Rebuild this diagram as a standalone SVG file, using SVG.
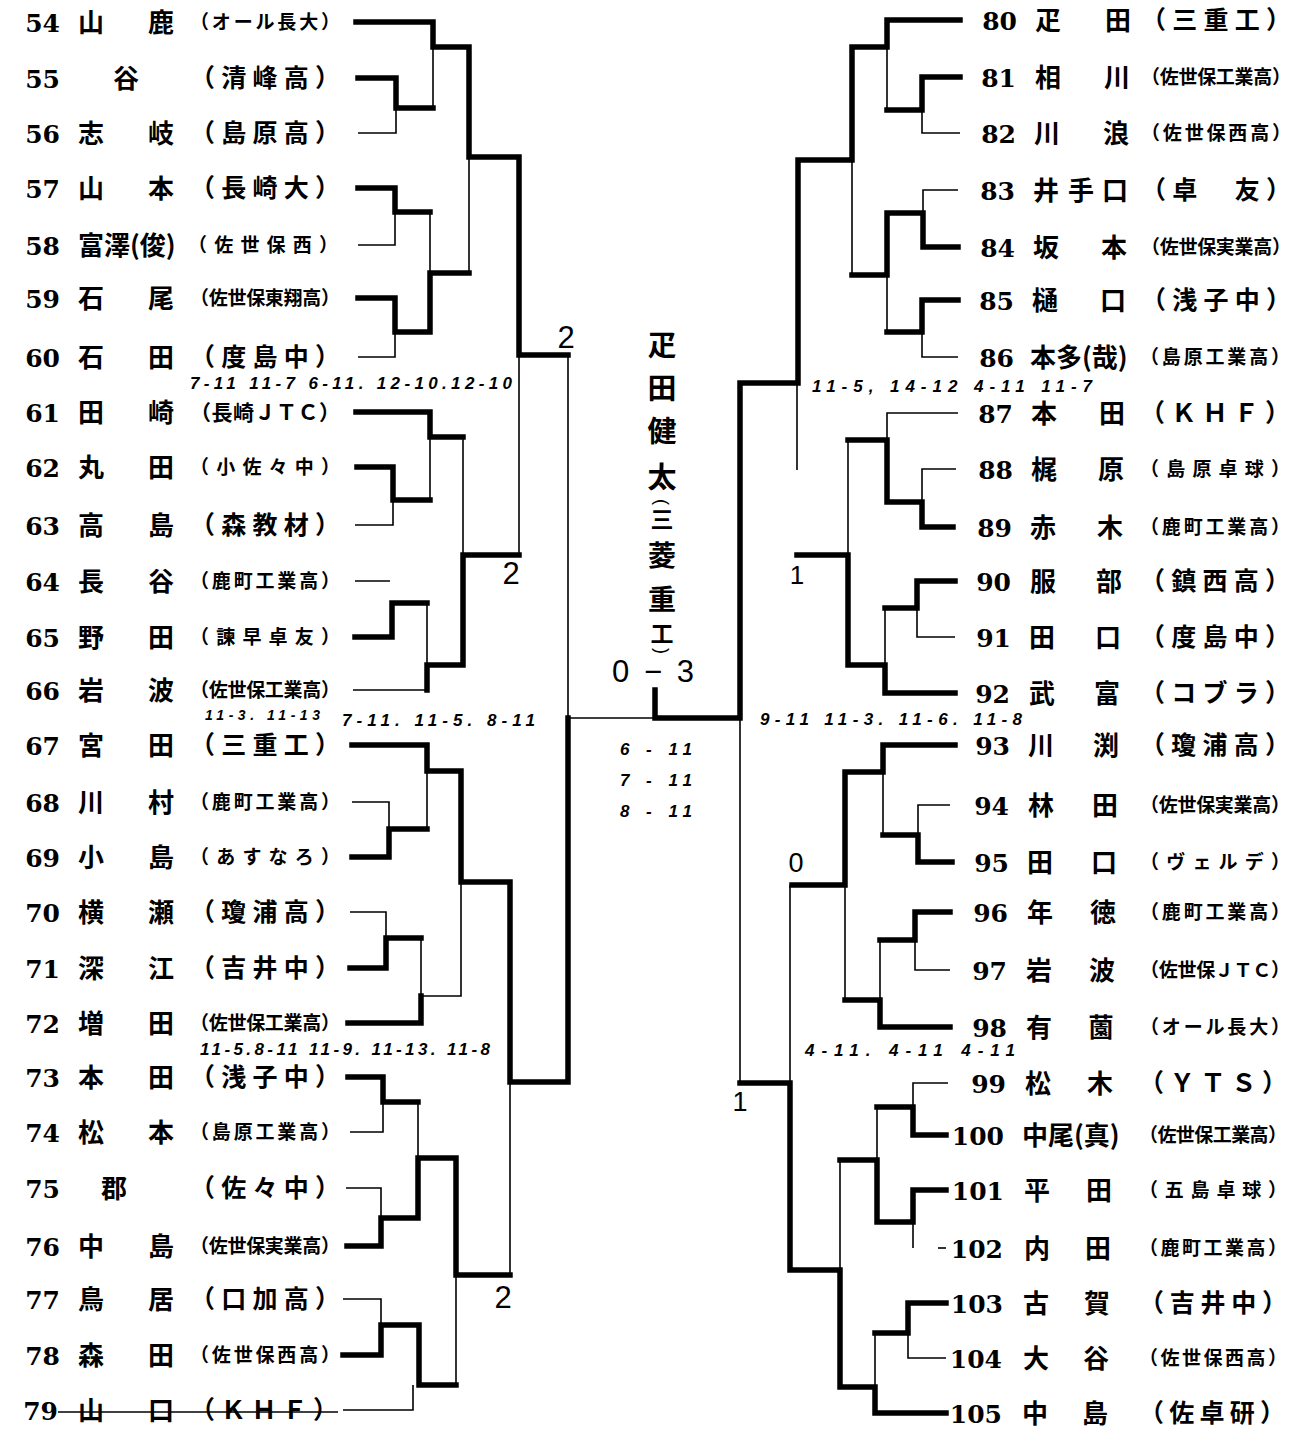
<svg xmlns="http://www.w3.org/2000/svg" width="1304" height="1432" viewBox="0 0 1304 1432">
<style>
.k{stroke:#000;stroke-width:5.5;fill:none;stroke-linecap:square;stroke-linejoin:miter}
.t{stroke:#000;stroke-width:1.6;fill:none}
.n{font-family:"DejaVu Serif","Liberation Serif",serif;font-size:25px;font-weight:bold;text-anchor:end}
.nm{font-family:"Noto Sans CJK JP",sans-serif;font-size:26px;font-weight:bold}
.L{font-family:"Noto Sans CJK JP",sans-serif;font-size:25px;font-weight:bold}
.S{font-family:"Noto Sans CJK JP",sans-serif;font-size:19px;font-weight:bold}
.a{font-family:"Liberation Sans",sans-serif;font-style:italic;font-weight:bold;font-size:17px}
.m{font-family:"Liberation Sans",sans-serif;font-size:31px}
.v{font-family:"Noto Sans CJK JP",sans-serif;font-size:29px;font-weight:bold;text-anchor:middle}
.p{font-family:"Liberation Sans",sans-serif;font-size:18px;text-anchor:middle}
</style>
<rect width="1304" height="1432" fill="#fff"/>
<g id="connectors">
<path class="k" d="M356,22H433V47H469V157H519V355H568"/>
<path class="k" d="M358,78H396V108H433"/>
<path class="k" d="M358,188H395V212H430"/>
<path class="k" d="M358,298H395V332H430V273H469"/>
<path class="k" d="M356,412H430V437H463"/>
<path class="k" d="M357,467H393V500H430"/>
<path class="k" d="M355,637H392V603H427"/>
<path class="k" d="M427,690V665H463V555H519"/>
<path class="k" d="M352,745H427V771H461V882H510V1082H568V718"/>
<path class="k" d="M352,857H389V829H427"/>
<path class="k" d="M350,968H386V938H421"/>
<path class="k" d="M348,1023H421V996"/>
<path class="k" d="M348,1077H383V1102H418"/>
<path class="k" d="M347,1246H381V1218H418V1158H456V1275H510"/>
<path class="k" d="M343,1355H381V1325H419V1385H456"/>
<path class="k" d="M655,690V718H740V383H798V160H852V47H887V20H960"/>
<path class="t" d="M396,108V133H358"/>
<path class="t" d="M433,47V108"/>
<path class="t" d="M469,157V273"/>
<path class="t" d="M395,212V245H358"/>
<path class="t" d="M430,212V273"/>
<path class="t" d="M395,332V357H358"/>
<path class="t" d="M519,355V555"/>
<path class="t" d="M568,355V718H655"/>
<path class="t" d="M430,437V500"/>
<path class="t" d="M393,500V525H355"/>
<path class="t" d="M463,437V555"/>
<path class="t" d="M355,581H390"/>
<path class="t" d="M427,603V665"/>
<path class="t" d="M353,690H427"/>
<path class="t" d="M427,771V829"/>
<path class="t" d="M352,802H389V829"/>
<path class="t" d="M461,882V996H421"/>
<path class="t" d="M350,912H386V938"/>
<path class="t" d="M421,938V996"/>
<path class="t" d="M510,1082V1275"/>
<path class="t" d="M383,1102V1132H350"/>
<path class="t" d="M418,1102V1158"/>
<path class="t" d="M346,1188H381V1218"/>
<path class="t" d="M456,1275V1385"/>
<path class="t" d="M343,1299H381V1325"/>
<path class="t" d="M343,1410H413V1385"/>
<path class="k" d="M960,77H922V110H887"/>
<path class="k" d="M958,247H923V213H887V275H852"/>
<path class="k" d="M958,300H922V332H887"/>
<path class="k" d="M953,527H922V502H887V440H848"/>
<path class="k" d="M955,693H885V665H848V555H797"/>
<path class="k" d="M955,581H917V608H885"/>
<path class="k" d="M955,745H883V772H845V885H792"/>
<path class="k" d="M952,862H918V835H883"/>
<path class="k" d="M950,912H915V940H880"/>
<path class="k" d="M950,1027H880V1000H845"/>
<path class="k" d="M946,1413H875V1387H840V1270H790V1083H740"/>
<path class="k" d="M946,1303H908V1333H875"/>
<path class="k" d="M946,1190H913V1222H877V1160H840"/>
<path class="k" d="M946,1135H913V1107H877"/>
<path class="t" d="M887,47V110"/>
<path class="t" d="M960,133H922V110"/>
<path class="t" d="M852,160V275"/>
<path class="t" d="M958,190H923V213"/>
<path class="t" d="M887,275V332"/>
<path class="t" d="M958,357H922V332"/>
<path class="t" d="M797,383V470"/>
<path class="t" d="M740,718V1083"/>
<path class="t" d="M958,413H887V440"/>
<path class="t" d="M956,469H922V502"/>
<path class="t" d="M848,440V555"/>
<path class="t" d="M917,608V637H955"/>
<path class="t" d="M885,608V665"/>
<path class="t" d="M883,772V835"/>
<path class="t" d="M950,805H918V835"/>
<path class="t" d="M845,885V1000"/>
<path class="t" d="M915,940V970H950"/>
<path class="t" d="M880,940V1000"/>
<path class="t" d="M790,885V1083"/>
<path class="t" d="M948,1083H913V1107"/>
<path class="t" d="M877,1107V1160"/>
<path class="t" d="M913,1222V1248"/>
<path class="t" d="M938,1248H946"/>
<path class="t" d="M840,1160V1270"/>
<path class="t" d="M908,1333V1358H946"/>
<path class="t" d="M875,1333V1387"/>
<path class="t" d="M58,1412H338"/>
</g>
<g id="p54"><text class="n" x="60" y="32">54</text><text class="nm" x="78 148" y="32">山鹿</text><text class="S" x="190" y="29" textLength="150" lengthAdjust="spacing">（オール長大）</text></g>
<g id="p55"><text class="n" x="60" y="88">55</text><text class="nm" x="113" y="88">谷</text><text class="L" x="190" y="87" textLength="150" lengthAdjust="spacing">（清峰高）</text></g>
<g id="p56"><text class="n" x="60" y="143">56</text><text class="nm" x="78 148" y="143">志岐</text><text class="L" x="190" y="142" textLength="150" lengthAdjust="spacing">（島原高）</text></g>
<g id="p57"><text class="n" x="60" y="198">57</text><text class="nm" x="78 148" y="198">山本</text><text class="L" x="190" y="197" textLength="150" lengthAdjust="spacing">（長崎大）</text></g>
<g id="p58"><text class="n" x="60" y="255">58</text><text class="nm" x="78" y="255">富澤(俊)</text><text class="S" x="188" y="252" textLength="150" lengthAdjust="spacing">（佐世保西）</text></g>
<g id="p59"><text class="n" x="60" y="308">59</text><text class="nm" x="78 148" y="308">石尾</text><text class="S" x="190" y="305" textLength="150" lengthAdjust="spacing">（佐世保東翔高）</text></g>
<g id="p60"><text class="n" x="60" y="367">60</text><text class="nm" x="78 148" y="367">石田</text><text class="L" x="190" y="366" textLength="150" lengthAdjust="spacing">（度島中）</text></g>
<g id="p61"><text class="n" x="60" y="422">61</text><text class="nm" x="78 148" y="422">田崎</text><text class="S" x="190" y="420" textLength="150" lengthAdjust="spacing" style="font-size:21px">（長崎ＪＴＣ）</text></g>
<g id="p62"><text class="n" x="60" y="477">62</text><text class="nm" x="78 148" y="477">丸田</text><text class="S" x="190" y="474" textLength="150" lengthAdjust="spacing">（小佐々中）</text></g>
<g id="p63"><text class="n" x="60" y="535">63</text><text class="nm" x="78 148" y="535">高島</text><text class="L" x="190" y="534" textLength="150" lengthAdjust="spacing">（森教材）</text></g>
<g id="p64"><text class="n" x="60" y="591">64</text><text class="nm" x="78 148" y="591">長谷</text><text class="S" x="190" y="588" textLength="150" lengthAdjust="spacing">（鹿町工業高）</text></g>
<g id="p65"><text class="n" x="60" y="647">65</text><text class="nm" x="78 148" y="647">野田</text><text class="S" x="190" y="644" textLength="150" lengthAdjust="spacing">（諫早卓友）</text></g>
<g id="p66"><text class="n" x="60" y="700">66</text><text class="nm" x="78 148" y="700">岩波</text><text class="S" x="190" y="697" textLength="150" lengthAdjust="spacing">（佐世保工業高）</text></g>
<g id="p67"><text class="n" x="60" y="755">67</text><text class="nm" x="78 148" y="755">宮田</text><text class="L" x="190" y="754" textLength="150" lengthAdjust="spacing">（三重工）</text></g>
<g id="p68"><text class="n" x="60" y="812">68</text><text class="nm" x="78 148" y="812">川村</text><text class="S" x="190" y="809" textLength="150" lengthAdjust="spacing">（鹿町工業高）</text></g>
<g id="p69"><text class="n" x="60" y="867">69</text><text class="nm" x="78 148" y="867">小島</text><text class="S" x="190" y="864" textLength="150" lengthAdjust="spacing">（あすなろ）</text></g>
<g id="p70"><text class="n" x="60" y="922">70</text><text class="nm" x="78 148" y="922">横瀬</text><text class="L" x="190" y="921" textLength="150" lengthAdjust="spacing">（瓊浦高）</text></g>
<g id="p71"><text class="n" x="60" y="978">71</text><text class="nm" x="78 148" y="978">深江</text><text class="L" x="190" y="977" textLength="150" lengthAdjust="spacing">（吉井中）</text></g>
<g id="p72"><text class="n" x="60" y="1033">72</text><text class="nm" x="78 148" y="1033">増田</text><text class="S" x="190" y="1030" textLength="150" lengthAdjust="spacing">（佐世保工業高）</text></g>
<g id="p73"><text class="n" x="60" y="1087">73</text><text class="nm" x="78 148" y="1087">本田</text><text class="L" x="190" y="1086" textLength="150" lengthAdjust="spacing">（浅子中）</text></g>
<g id="p74"><text class="n" x="60" y="1142">74</text><text class="nm" x="78 148" y="1142">松本</text><text class="S" x="190" y="1139" textLength="150" lengthAdjust="spacing">（島原工業高）</text></g>
<g id="p75"><text class="n" x="60" y="1198">75</text><text class="nm" x="101" y="1198">郡</text><text class="L" x="190" y="1197" textLength="150" lengthAdjust="spacing">（佐々中）</text></g>
<g id="p76"><text class="n" x="60" y="1256">76</text><text class="nm" x="78 148" y="1256">中島</text><text class="S" x="190" y="1253" textLength="150" lengthAdjust="spacing">（佐世保実業高）</text></g>
<g id="p77"><text class="n" x="60" y="1309">77</text><text class="nm" x="78 148" y="1309">鳥居</text><text class="L" x="190" y="1308" textLength="150" lengthAdjust="spacing">（口加高）</text></g>
<g id="p78"><text class="n" x="60" y="1365">78</text><text class="nm" x="78 148" y="1365">森田</text><text class="S" x="190" y="1362" textLength="150" lengthAdjust="spacing">（佐世保西高）</text></g>
<g id="p79"><text class="n" x="58" y="1420">79</text><text class="nm" x="78 148" y="1420">山口</text><text class="L" x="190" y="1419" textLength="148" lengthAdjust="spacing">（ＫＨＦ）</text></g>
<g id="p80"><text class="n" x="1017" y="30">80</text><text class="nm" x="1035 1105" y="30">疋田</text><text class="L" x="1141" y="29" textLength="150" lengthAdjust="spacing">（三重工）</text></g>
<g id="p81"><text class="n" x="1016" y="87">81</text><text class="nm" x="1035 1104" y="87">相川</text><text class="S" x="1141" y="84" textLength="150" lengthAdjust="spacing">（佐世保工業高）</text></g>
<g id="p82"><text class="n" x="1016" y="143">82</text><text class="nm" x="1034 1103" y="143">川浪</text><text class="S" x="1141" y="140" textLength="150" lengthAdjust="spacing">（佐世保西高）</text></g>
<g id="p83"><text class="n" x="1015" y="200">83</text><text class="nm" x="1033 1068 1102" y="200">井手口</text><text class="L" x="1141" y="199" textLength="150" lengthAdjust="spacing">（卓　友）</text></g>
<g id="p84"><text class="n" x="1015" y="257">84</text><text class="nm" x="1033 1101" y="257">坂本</text><text class="S" x="1141" y="254" textLength="150" lengthAdjust="spacing">（佐世保実業高）</text></g>
<g id="p85"><text class="n" x="1014" y="310">85</text><text class="nm" x="1032 1100" y="310">樋口</text><text class="L" x="1141" y="309" textLength="150" lengthAdjust="spacing">（浅子中）</text></g>
<g id="p86"><text class="n" x="1014" y="367">86</text><text class="nm" x="1030" y="367">本多(哉)</text><text class="S" x="1140" y="364" textLength="150" lengthAdjust="spacing">（島原工業高）</text></g>
<g id="p87"><text class="n" x="1013" y="423">87</text><text class="nm" x="1031 1099" y="423">本田</text><text class="L" x="1140" y="422" textLength="150" lengthAdjust="spacing">（ＫＨＦ）</text></g>
<g id="p88"><text class="n" x="1013" y="479">88</text><text class="nm" x="1031 1098" y="479">梶原</text><text class="S" x="1140" y="476" textLength="150" lengthAdjust="spacing">（島原卓球）</text></g>
<g id="p89"><text class="n" x="1012" y="537">89</text><text class="nm" x="1030 1097" y="537">赤木</text><text class="S" x="1140" y="534" textLength="150" lengthAdjust="spacing">（鹿町工業高）</text></g>
<g id="p90"><text class="n" x="1011" y="591">90</text><text class="nm" x="1030 1096" y="591">服部</text><text class="L" x="1140" y="590" textLength="150" lengthAdjust="spacing">（鎮西高）</text></g>
<g id="p91"><text class="n" x="1011" y="647">91</text><text class="nm" x="1029 1095" y="647">田口</text><text class="L" x="1140" y="646" textLength="150" lengthAdjust="spacing">（度島中）</text></g>
<g id="p92"><text class="n" x="1010" y="703">92</text><text class="nm" x="1029 1094" y="703">武富</text><text class="L" x="1140" y="702" textLength="150" lengthAdjust="spacing">（コブラ）</text></g>
<g id="p93"><text class="n" x="1010" y="755">93</text><text class="nm" x="1028 1093" y="755">川渕</text><text class="L" x="1140" y="754" textLength="150" lengthAdjust="spacing">（瓊浦高）</text></g>
<g id="p94"><text class="n" x="1009" y="815">94</text><text class="nm" x="1028 1092" y="815">林田</text><text class="S" x="1140" y="812" textLength="150" lengthAdjust="spacing">（佐世保実業高）</text></g>
<g id="p95"><text class="n" x="1009" y="872">95</text><text class="nm" x="1027 1091" y="872">田口</text><text class="S" x="1140" y="869" textLength="150" lengthAdjust="spacing">（ヴェルデ）</text></g>
<g id="p96"><text class="n" x="1008" y="922">96</text><text class="nm" x="1027 1090" y="922">年徳</text><text class="S" x="1140" y="919" textLength="150" lengthAdjust="spacing">（鹿町工業高）</text></g>
<g id="p97"><text class="n" x="1007" y="980">97</text><text class="nm" x="1026 1089" y="980">岩波</text><text class="S" x="1140" y="977" textLength="150" lengthAdjust="spacing">（佐世保ＪＴＣ）</text></g>
<g id="p98"><text class="n" x="1007" y="1037">98</text><text class="nm" x="1026 1088" y="1037">有薗</text><text class="S" x="1140" y="1034" textLength="150" lengthAdjust="spacing">（オール長大）</text></g>
<g id="p99"><text class="n" x="1006" y="1093">99</text><text class="nm" x="1025 1087" y="1093">松木</text><text class="L" x="1139" y="1092" textLength="148" lengthAdjust="spacing">（ＹＴＳ）</text></g>
<g id="p100"><text class="n" x="1004" y="1145">100</text><text class="nm" x="1022" y="1145">中尾(真)</text><text class="S" x="1139" y="1142" textLength="148" lengthAdjust="spacing">（佐世保工業高）</text></g>
<g id="p101"><text class="n" x="1004" y="1200">101</text><text class="nm" x="1024 1086" y="1200">平田</text><text class="S" x="1139" y="1197" textLength="148" lengthAdjust="spacing">（五島卓球）</text></g>
<g id="p102"><text class="n" x="1003" y="1258">102</text><text class="nm" x="1024 1085" y="1258">内田</text><text class="S" x="1139" y="1255" textLength="148" lengthAdjust="spacing">（鹿町工業高）</text></g>
<g id="p103"><text class="n" x="1003" y="1313">103</text><text class="nm" x="1023 1084" y="1313">古賀</text><text class="L" x="1139" y="1312" textLength="148" lengthAdjust="spacing">（吉井中）</text></g>
<g id="p104"><text class="n" x="1002" y="1368">104</text><text class="nm" x="1023 1083" y="1368">大谷</text><text class="S" x="1139" y="1365" textLength="148" lengthAdjust="spacing">（佐世保西高）</text></g>
<g id="p105"><text class="n" x="1002" y="1423">105</text><text class="nm" x="1022 1082" y="1423">中島</text><text class="L" x="1139" y="1422" textLength="146" lengthAdjust="spacing">（佐卓研）</text></g>
<g id="champion">
<text class="v" x="662" y="356">疋</text>
<text class="v" x="662" y="399">田</text>
<text class="v" x="662" y="442">健</text>
<text class="v" x="662" y="488">太</text>
<text class="p" x="662" y="508" transform="rotate(90 662 502)">(</text>
<text class="v" x="662" y="528" style="font-size:23px">三</text>
<text class="v" x="662" y="566" style="font-size:28px">菱</text>
<text class="v" x="662" y="610" style="font-size:28px">重</text>
<text class="v" x="662" y="642" style="font-size:23px">工</text>
<text class="p" x="662" y="657" transform="rotate(90 662 651)">)</text>
</g>
<g id="scores">
<text class="m" x="612" y="682" textLength="82" lengthAdjust="spacing">0 − 3</text>
<text class="m" x="566" y="348" text-anchor="middle">2</text>
<text class="m" x="511" y="584" text-anchor="middle">2</text>
<text class="m" x="503" y="1308" text-anchor="middle">2</text>
<text class="m" x="797" y="584" text-anchor="middle" style="font-size:26px">1</text>
<text class="m" x="796" y="872" text-anchor="middle" style="font-size:27px">0</text>
<text class="m" x="740" y="1111" text-anchor="middle" style="font-size:27px">1</text>
<text class="a" x="190" y="389" textLength="322" lengthAdjust="spacing">7-11 11-7 6-11. 12-10.12-10</text>
<text class="a" x="205" y="720" textLength="115" lengthAdjust="spacing" style="font-size:14px">11-3. 11-13</text>
<text class="a" x="342" y="726" textLength="193" lengthAdjust="spacing">7-11. 11-5. 8-11</text>
<text class="a" x="200" y="1055" textLength="290" lengthAdjust="spacing">11-5.8-11 11-9. 11-13. 11-8</text>
<text class="a" x="812" y="392" textLength="280" lengthAdjust="spacing">11-5, 14-12 4-11 11-7</text>
<text class="a" x="760" y="725" textLength="262" lengthAdjust="spacing">9-11 11-3. 11-6. 11-8</text>
<text class="a" x="805" y="1056" textLength="210" lengthAdjust="spacing">4-11. 4-11 4-11</text>
<text class="a" x="620" y="755" textLength="72" lengthAdjust="spacing">6 - 11</text>
<text class="a" x="620" y="786" textLength="72" lengthAdjust="spacing">7 - 11</text>
<text class="a" x="620" y="817" textLength="72" lengthAdjust="spacing">8 - 11</text>
</g>
</svg>
